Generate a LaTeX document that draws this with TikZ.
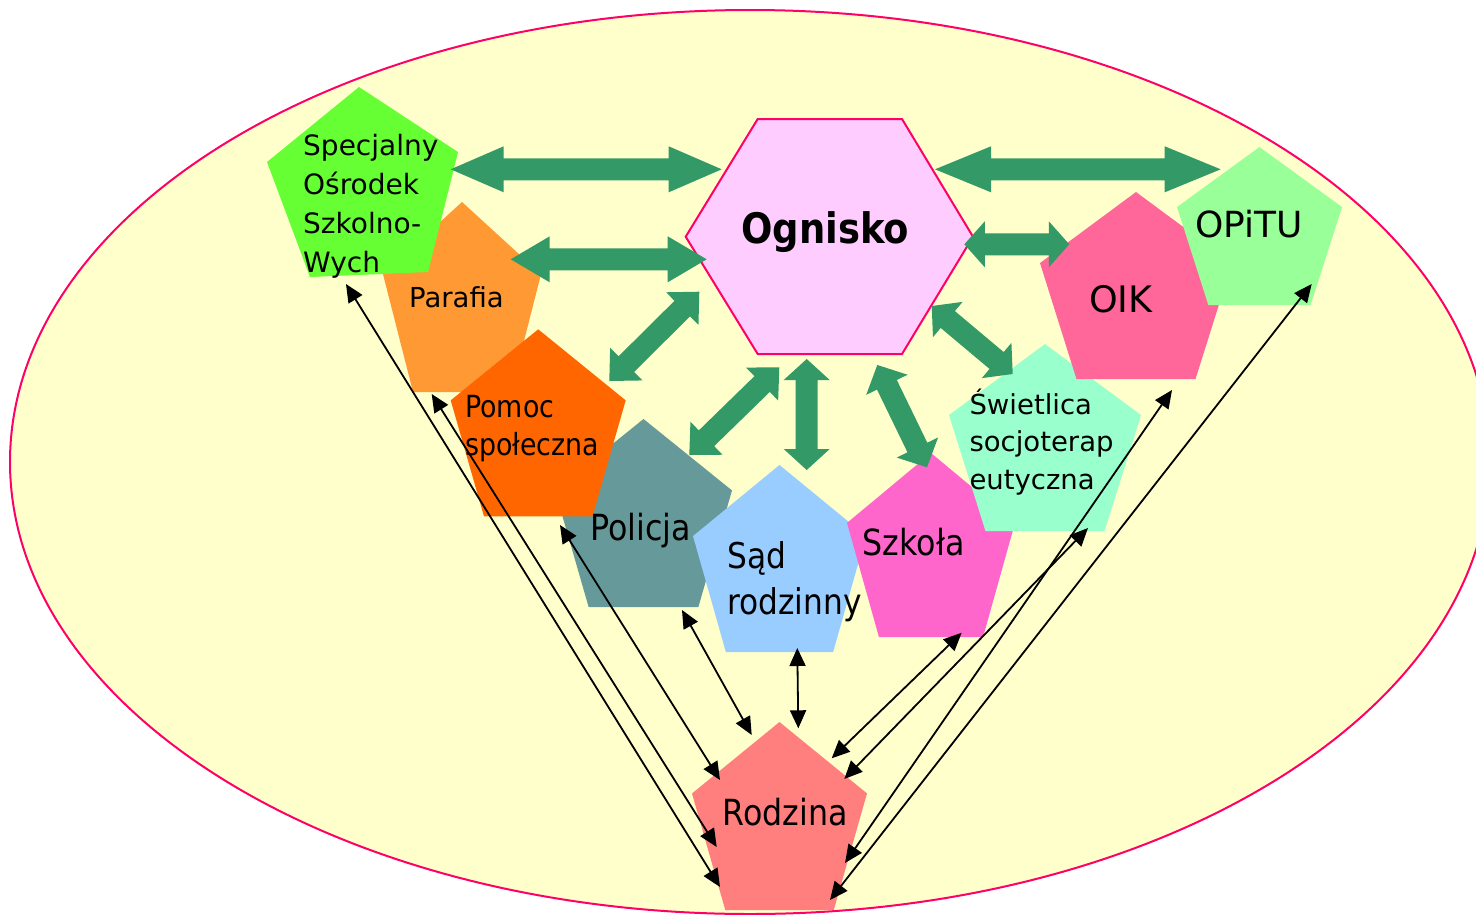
\documentclass[tikz,border=0pt]{standalone}
\usepackage{fontspec}
\setmainfont{DejaVu Sans}
\newfontfamily\condfont{DejaVu Sans}[FakeStretch=0.88]
\usetikzlibrary{calc,arrows.meta}
\definecolor{bgfill}{HTML}{FFFFCC}
\definecolor{rim}{HTML}{FF0066}
\definecolor{gcol}{HTML}{339966}
\definecolor{cspec}{HTML}{66FF33}
\definecolor{cpar}{HTML}{FF9933}
\definecolor{cpom}{HTML}{FF6600}
\definecolor{cpol}{HTML}{669999}
\definecolor{csad}{HTML}{99CCFF}
\definecolor{cszk}{HTML}{FF66CC}
\definecolor{cswi}{HTML}{99FFCC}
\definecolor{coik}{HTML}{FF6699}
\definecolor{copi}{HTML}{99FF99}
\definecolor{crod}{HTML}{FF7F7F}
\definecolor{chex}{HTML}{FFCCFF}
% pentagon in box: colour, x0, y0, w, h
\newcommand\penta[5]{\fill[#1] ({#2+0.5*#4},{#3}) -- ({#2+#4},{#3+0.38*#5}) -- ({#2+0.81*#4},{#3+#5}) -- ({#2+0.19*#4},{#3+#5}) -- ({#2},{#3+0.38*#5}) -- cycle;}
% green double block arrow between named tips: from, to, head length
\newcommand\garrow[3]{%
  \path ($(#1)!#3!(#2)$) coordinate (ga) ($(#2)!#3!(#1)$) coordinate (gb);
  \fill[gcol] (#1) -- ($(ga)!23pt!90:(#2)$) -- ($(ga)!11pt!90:(#2)$) -- ($(gb)!11pt!-90:(#1)$) -- ($(gb)!23pt!-90:(#1)$) -- (#2)
    -- ($(gb)!23pt!90:(#1)$) -- ($(gb)!11pt!90:(#1)$) -- ($(ga)!11pt!-90:(#2)$) -- ($(ga)!23pt!-90:(#2)$) -- cycle;}
\tikzset{
  barrow/.style={line width=1.8pt, draw=black,
    arrows={Triangle[length=18pt,width=16pt]-Triangle[length=18pt,width=16pt]}},
  lbl/.style={inner sep=0pt, anchor=base west, align=left, text=black},
}
\begin{document}
\begin{tikzpicture}[x=1pt,y=-1pt]
\useasboundingbox (0,0) rectangle (1476,914);
\clip (0,0) rectangle (1476,914);
% background ellipse
\filldraw[fill=bgfill, draw=rim, line width=2pt] (750,462) ellipse [x radius=740, y radius=452];
% pentagons
\penta{cpar}{383}{202}{158}{190}
\fill[cspec] (359,87) -- (458,152) -- (428,272) -- (310,277) -- (267,162) -- cycle;
\penta{cpol}{555}{419}{177}{188}
\penta{cpom}{450.7}{329.3}{175}{187}
\penta{csad}{693}{465}{173}{187}
\penta{cszk}{847}{453}{168}{184}
\penta{cswi}{949}{344}{192}{187}
\penta{coik}{1040}{192}{192}{187}
\penta{copi}{1177}{147}{165}{158}
\penta{crod}{692}{722}{175}{188}
% hexagon
\filldraw[fill=chex, draw=rim, line width=2pt] (757.7,119) -- (902,119) -- (973,236.7) -- (902,354) -- (757.7,354) -- (685.7,236.7) -- cycle;
% green arrow tips
\coordinate (g1a) at (450.7,169.3); \coordinate (g1b) at (721.7,169.3);
\coordinate (g2a) at (935,169.3);   \coordinate (g2b) at (1220.7,169.3);
\coordinate (g3a) at (510.7,259.3); \coordinate (g3b) at (706.7,259.3);
\coordinate (g4a) at (964.3,244.3); \coordinate (g4b) at (1069.3,244.3);
\coordinate (g5a) at (699.3,291.7); \coordinate (g5b) at (609.3,381);
\coordinate (g6a) at (779.3,367.3); \coordinate (g6b) at (689.3,455);
\coordinate (g7a) at (806.7,359);   \coordinate (g7b) at (806.7,470);
\coordinate (g8a) at (877.3,365);   \coordinate (g8b) at (927,467.3);
\coordinate (g9a) at (931.7,306);   \coordinate (g9b) at (1012.7,374);
\garrow{g1a}{g1b}{53pt}
\garrow{g2a}{g2b}{56pt}
\garrow{g3a}{g3b}{39pt}
\garrow{g4a}{g4b}{20.5pt}
\garrow{g5a}{g5b}{24pt}
\garrow{g6a}{g6b}{24pt}
\garrow{g7a}{g7b}{21pt}
\garrow{g8a}{g8b}{22pt}
\garrow{g9a}{g9b}{21pt}
% black arrow ends
\coordinate (sp-r) at (346,284);    \coordinate (r-sp) at (720,887);
\coordinate (pa-r) at (431.7,394);  \coordinate (r-pa) at (716.7,847);
\coordinate (po-r) at (560,525);    \coordinate (r-po) at (720,780);
\coordinate (pb-r) at (682,610);    \coordinate (r-pb) at (751.7,735);
\coordinate (sa-r) at (797.3,648);  \coordinate (r-sa) at (798.3,728.3);
\coordinate (sz-r) at (961.7,632.7); \coordinate (r-sz) at (831.7,758.3);
\coordinate (sw-r) at (1088,528);   \coordinate (r-sw) at (844.3,779);
\coordinate (oi-r) at (1172,390);   \coordinate (r-oi) at (845,863);
\coordinate (op-r) at (1311.7,284); \coordinate (r-op) at (830,900);
\draw[barrow] (sp-r) -- (r-sp);
\draw[barrow] (pa-r) -- (r-pa);
\draw[barrow] (po-r) -- (r-po);
\draw[barrow] (pb-r) -- (r-pb);
\draw[barrow] (sa-r) -- (r-sa);
\draw[barrow] (sz-r) -- (r-sz);
\draw[barrow] (sw-r) -- (r-sw);
\draw[barrow] (oi-r) -- (r-oi);
\draw[barrow] (op-r) -- (r-op);
% labels (multi-line nodes: base = last line)
\node[lbl, font=\fontsize{28}{38.7}\selectfont] (specjalny) at (303,272) {Specjalny\\Ośrodek\\Szkolno-\\Wych};
\node[lbl, font=\fontsize{27.5}{32}\selectfont] (parafia) at (409,307) {Parafia};
\node[lbl, font=\condfont\fontsize{42}{48}\selectfont\bfseries] (ognisko) at (741,243) {Ognisko};
\node[lbl, font=\condfont\fontsize{30.5}{37.3}\selectfont] (pomoc) at (465,455) {Pomoc\\społeczna};
\node[lbl, font=\condfont\fontsize{36}{40}\selectfont] (policja) at (590,540) {Policja};
\node[lbl, font=\condfont\fontsize{35.5}{45.7}\selectfont] (sad) at (727,614) {Sąd\\rodzinny};
\node[lbl, font=\condfont\fontsize{36}{40}\selectfont] (szkola) at (862.5,555) {Szkoła};
\node[lbl, font=\fontsize{27.5}{37.5}\selectfont] (swietlica) at (969.3,489) {Świetlica\\socjoterap\\eutyczna};
\node[lbl, font=\fontsize{36.5}{43}\selectfont] (oik) at (1089,312.7) {OIK};
\node[lbl, font=\fontsize{36}{43}\selectfont] (opitu) at (1195,237.7) {OPiTU};
\node[lbl, font=\condfont\fontsize{36}{40}\selectfont] (rodzina) at (722.5,825.7) {Rodzina};
\end{tikzpicture}
\end{document}
